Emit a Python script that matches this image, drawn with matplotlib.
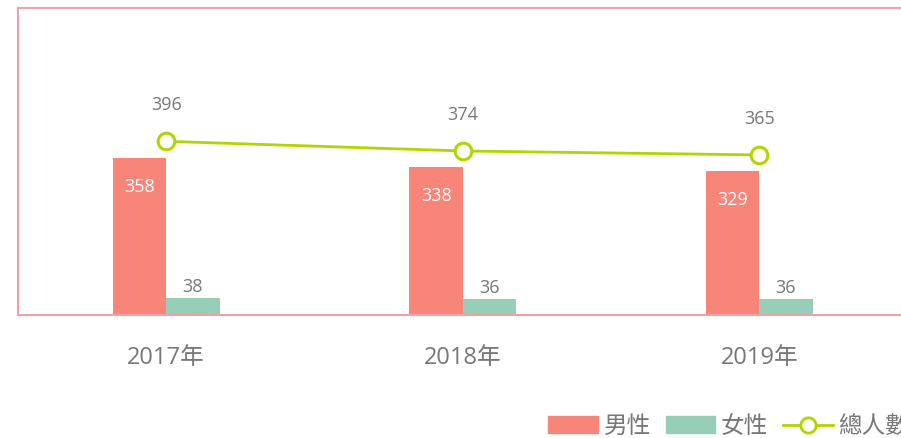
import numpy as np
import matplotlib.pyplot as plt
from matplotlib.patches import Patch
from matplotlib.lines import Line2D

plt.rcParams['font.family'] = ['Open Sans', 'Noto Sans CJK TC', 'DejaVu Sans']

years = ["2017年", "2018年", "2019年"]
male = [358, 338, 329]
female = [38, 36, 36]
total = [396, 374, 365]

C_MALE = "#F8857A"
C_FEMALE = "#96CEB8"
C_LINE = "#B5D300"
C_BORDER = "#EFA0A8"
C_TEXT = "#777777"

fig = plt.figure(figsize=(9.01, 4.38), dpi=100)
# right edge runs past the figure, like the cropped original
ax = fig.add_axes([18 / 901, 1 - 315 / 438, 889.5 / 901, 307 / 438])

x = np.arange(len(years))
w = 0.18
ax.bar(x - w / 2, male, width=w, color=C_MALE, zorder=2)
ax.bar(x + w / 2, female, width=w, color=C_FEMALE, zorder=2)
ax.plot(x, total, color=C_LINE, lw=2, marker="o", markersize=12,
        markerfacecolor="white", markeredgecolor=C_LINE, markeredgewidth=2.2, zorder=3)

for i in range(len(years)):
    ax.annotate(str(male[i]), (x[i] - w / 2, male[i]), xytext=(0, -29),
                textcoords="offset pixels", ha="center", va="center",
                color="white", fontsize=13)
    ax.annotate(str(female[i]), (x[i] + w / 2, female[i]), xytext=(0, 11),
                textcoords="offset pixels", ha="center", va="center",
                color=C_TEXT, fontsize=13)
    ax.annotate(str(total[i]), (x[i], total[i]), xytext=(0, 36),
                textcoords="offset pixels", ha="center", va="center",
                color=C_TEXT, fontsize=13)

ax.set_xlim(-0.5, 2.5)
ax.set_ylim(0, 700)
ax.set_xticks(x)
ax.set_xticklabels(years, fontsize=17, color=C_TEXT)
ax.tick_params(axis="x", length=0, pad=22)
ax.set_yticks([])
for s in ax.spines.values():
    s.set_color(C_BORDER)
    s.set_linewidth(1.5)

handles = [
    Patch(color=C_MALE),
    Patch(color=C_FEMALE),
    Line2D([0], [0], color=C_LINE, lw=2, marker="o", markersize=11,
           markerfacecolor="white", markeredgecolor=C_LINE, markeredgewidth=2),
]
fig.legend(handles, ["男性", "女性", "總人數"], loc="center left",
           bbox_to_anchor=(527 / 901, 1 - 427 / 438), ncol=3, frameon=False,
           fontsize=17, labelcolor=C_TEXT, handlelength=2.1, handleheight=0.7,
           handletextpad=0.25, columnspacing=0.62)

fig.savefig("out.png", dpi=100)
